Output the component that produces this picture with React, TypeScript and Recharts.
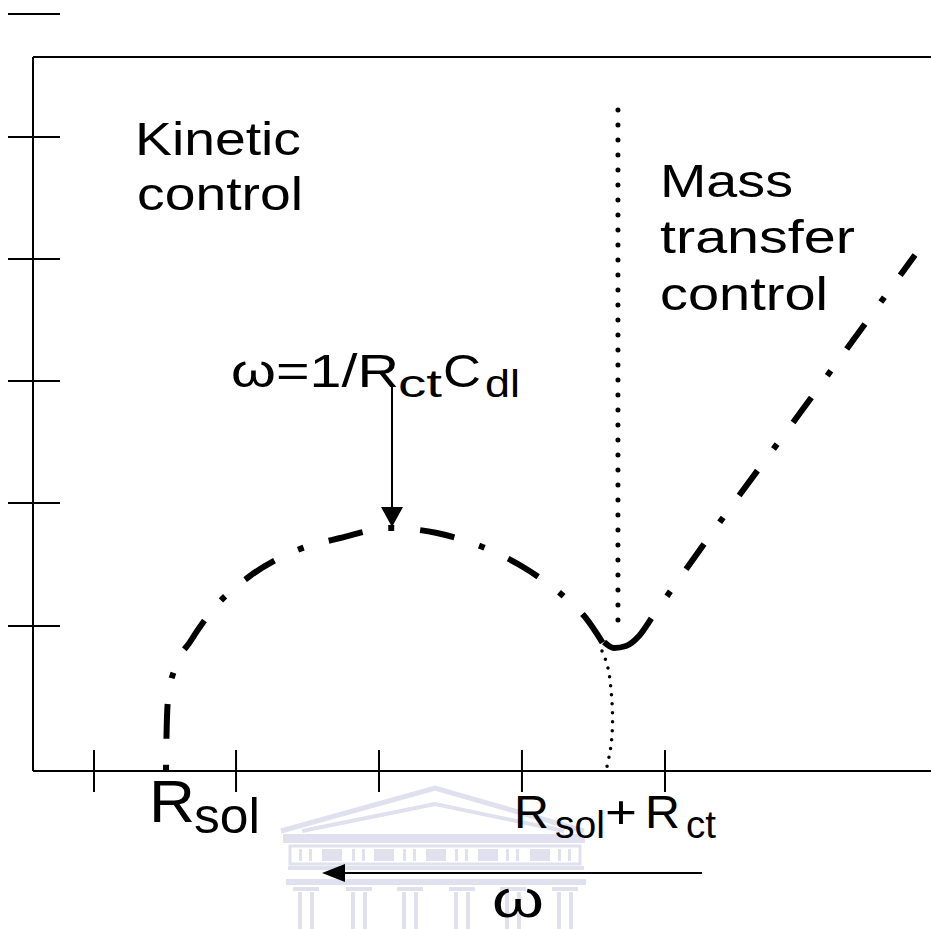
import { ComposedChart, Line, XAxis, YAxis } from 'recharts'

// axis ticks (data units, both axes 0..100 across the frame)
const xTicks = [6.79, 22.61, 38.53, 54.45, 70.38]
const yTicks = [20.31, 37.54, 54.62, 71.71, 88.8, 106.02]

// kinetic semicircle, from Rsol up over the top and down into the V
const arcX = [14.81, 14.87, 15.03, 15.81, 17.48, 20.27, 24.16, 28.62, 34.19, 39.76, 44.99, 49.78, 54.57, 58.8, 61.47, 63.59]
const arcY = [0, 5.04, 9.94, 14.43, 18.07, 22.97, 27.31, 30.53, 32.63, 34.03, 33.33, 31.51, 28.57, 24.79, 21.57, 17.65]

// Warburg (mass transfer) branch, from the V bottom up to the right
const warburgX = [63.59, 64.7, 66.04, 67.48, 69.04, 76.73, 85.41, 98.22]
const warburgY = [18.07, 17.23, 17.51, 18.91, 21.71, 35.29, 50.14, 72.27]

// dotted closing of the semicircle down to Rsol + Rct
const closeX = [63.36, 64.03, 64.37, 64.53, 64.48, 64.25, 63.81]
const closeY = [16.81, 14.43, 11.34, 8.12, 5.04, 2.66, 0]

// dotted boundary between the two regimes
const boundaryX = [65.14, 65.14]
const boundaryY = [21.15, 94.26]

const zip = (xs: number[], ys: number[]) => xs.map((x, i) => ({ x, y: ys[i] }))
const arc = zip(arcX, arcY)
const warburg = zip(warburgX, warburgY)
const closing = zip(closeX, closeY)
const boundary = zip(boundaryX, boundaryY)

const FONT = '"Liberation Sans", Arial, sans-serif'
const INK = '#000'
const WM = '#e0e0ee'

const XTick = (props: any) => {
  const { x, y } = props
  return <line x1={x} x2={x} y1={y - 21} y2={y + 21} stroke={INK} strokeWidth={2} />
}

const YTick = (props: any) => {
  const { x, y } = props
  return <line x1={x - 25} x2={x + 27} y1={y} y2={y} stroke={INK} strokeWidth={2} />
}

const T = ({ x, y, size, len, children }: any) => (
  <text x={x} y={y} fontSize={size} fontFamily={FONT} fill={INK} textLength={len} lengthAdjust="spacingAndGlyphs">
    {children}
  </text>
)

const columns = [306, 359, 410, 462, 513, 565]
const friezeBlocks = [322, 374, 426, 478, 530]

const Watermark = () => (
  <g>
    <polyline points="281,831 435,788 584,831" fill="none" stroke={WM} strokeWidth={5} />
    <polyline points="302,831 435,804 564,831" fill="none" stroke={WM} strokeWidth={4} />
    <rect x={283} y={834} width={302} height={9} fill={WM} />
    <rect x={290} y={846} width={290} height={18} fill="none" stroke={WM} strokeWidth={3} />
    {friezeBlocks.map(b => (
      <rect key={b} x={b} y={849} width={20} height={12} fill={WM} />
    ))}
    {columns.map(c => (
      <g key={c}>
        <rect x={c - 7} y={849} width={3} height={12} fill={WM} />
        <rect x={c + 3} y={849} width={3} height={12} fill={WM} />
      </g>
    ))}
    <rect x={288} y={866} width={296} height={4} fill={WM} />
    <rect x={286} y={879} width={300} height={6} fill={WM} />
    {columns.map(c => (
      <g key={'c' + c}>
        <rect x={c - 13} y={887} width={26} height={4} fill={WM} />
        <line x1={c - 6} x2={c - 6} y1={892} y2={929} stroke={WM} strokeWidth={4} />
        <line x1={c + 6} x2={c + 6} y1={892} y2={929} stroke={WM} strokeWidth={4} />
      </g>
    ))}
  </g>
)

export default function App() {
  return (
    <div style={{ width: 931, height: 929, overflow: 'hidden' }}>
      <style>{'body{margin:0;overflow:hidden}'}</style>
      <ComposedChart width={931} height={929} margin={{ top: 56, right: 0, bottom: 157, left: 32 }}>
        <Watermark />
        <XAxis
          dataKey="x" type="number" domain={[0, 100]} ticks={xTicks} interval={0}
          height={1} tickSize={0} tickMargin={0} tickLine={false} tick={XTick}
          axisLine={{ stroke: INK, strokeWidth: 2 }} allowDataOverflow
        />
        <XAxis
          xAxisId="top" orientation="top" type="number" domain={[0, 100]}
          height={1} tick={false} tickLine={false} axisLine={{ stroke: INK, strokeWidth: 2 }}
        />
        <YAxis
          type="number" domain={[0, 100]} ticks={yTicks} interval={0}
          width={1} tickSize={0} tickMargin={0} tickLine={false} tick={YTick}
          axisLine={{ stroke: INK, strokeWidth: 2 }} allowDataOverflow
        />
        <Line
          data={arc} dataKey="y" type="monotone" stroke={INK} strokeWidth={6}
          strokeDasharray="6 26 35 26" dot={false} isAnimationActive={false}
        />
        <Line
          data={warburg} dataKey="y" type="monotone" stroke={INK} strokeWidth={6}
          strokeDasharray="62 27 6 27 31 27 6 27 31 27 6 27 31 27 6 27 31 27 6 27 31 27 6 27 40"
          dot={false} isAnimationActive={false}
        />
        <Line
          data={closing} dataKey="y" type="natural" stroke={INK} strokeWidth={3.5}
          strokeDasharray="0 9" strokeLinecap="round" dot={false} isAnimationActive={false}
        />
        <Line
          data={boundary} dataKey="y" type="linear" stroke={INK} strokeWidth={5}
          strokeDasharray="0 15" strokeLinecap="round" dot={false} isAnimationActive={false}
        />

        <T x={135} y={155} size={46} len={166}>Kinetic</T>
        <T x={137} y={210} size={46} len={166}>control</T>
        <T x={660} y={197} size={46} len={133}>Mass</T>
        <T x={660} y={253} size={46} len={195}>transfer</T>
        <T x={660} y={310} size={46} len={168}>control</T>

        <T x={231} y={387} size={46} len={168}>ω=1/R</T>
        <T x={398} y={397} size={38} len={44}>ct</T>
        <T x={443} y={387} size={46} len={38}>C</T>
        <T x={485} y={397} size={38} len={35}>dl</T>
        <line x1={392} x2={392} y1={385} y2={510} stroke={INK} strokeWidth={2} />
        <polygon points="381,507 403,507 392,527" fill={INK} />

        <T x={149} y={822} size={60} len={46}>R</T>
        <T x={194} y={833} size={50} len={66}>sol</T>

        <T x={514} y={828} size={46} len={35}>R</T>
        <T x={555} y={838} size={38} len={50}>sol</T>
        <T x={605} y={828} size={46} len={32}>+</T>
        <T x={645} y={828} size={46} len={35}>R</T>
        <T x={686} y={838} size={38} len={30}>ct</T>

        <line x1={702} x2={340} y1={873} y2={873} stroke={INK} strokeWidth={2} />
        <polygon points="322,873 345,864 345,882" fill={INK} />
        <T x={492} y={917} size={52} len={52}>ω</T>
      </ComposedChart>
    </div>
  )
}
